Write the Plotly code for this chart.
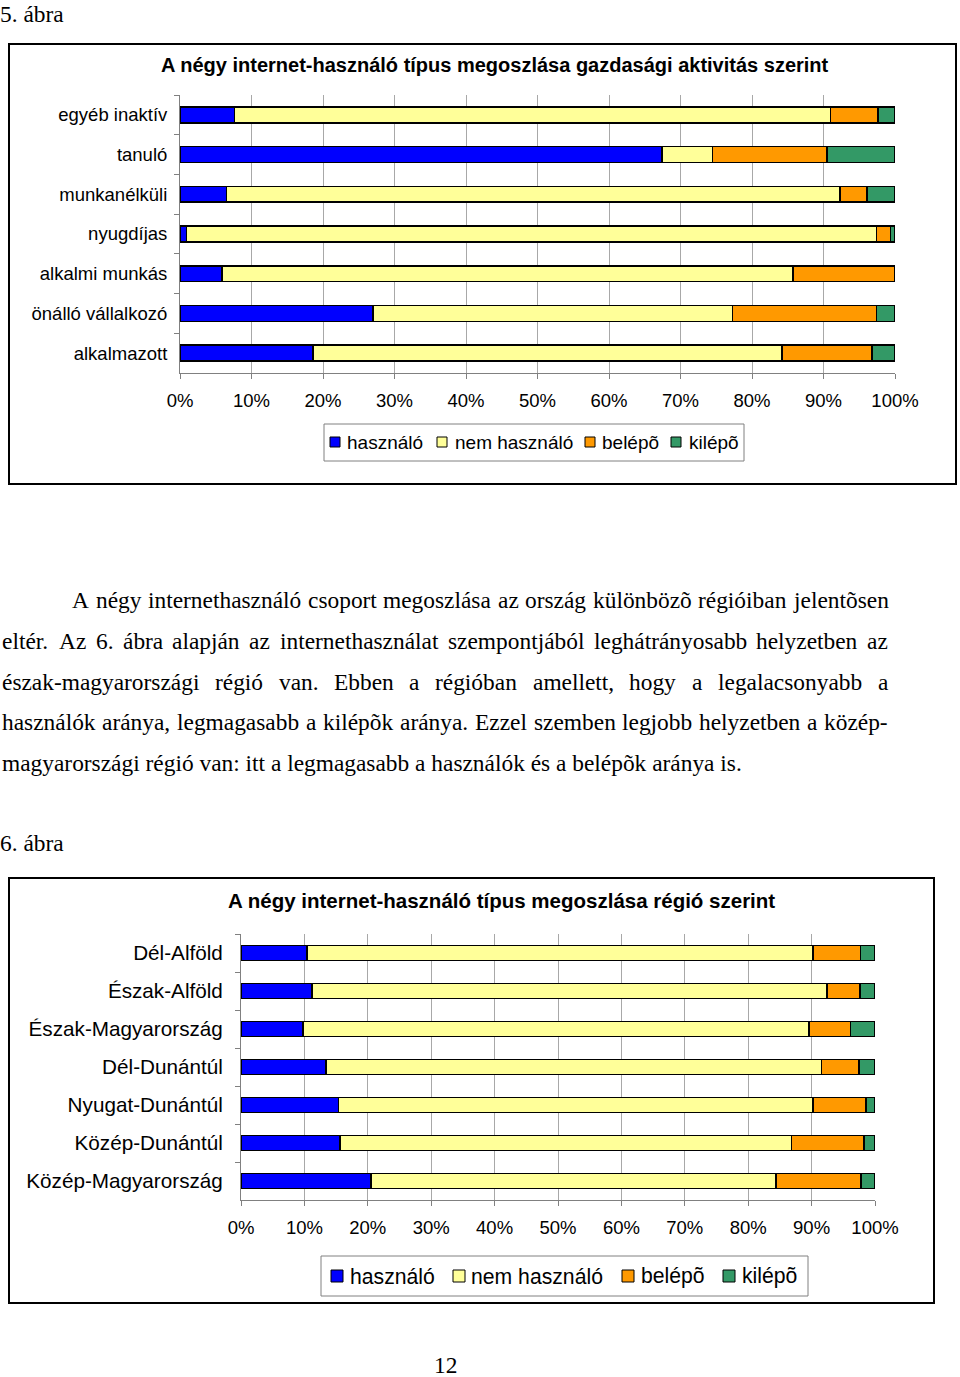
import plotly.graph_objects as go

W, H = 960, 1377


def X(px):
    return px / W


def Y(py):
    return 1 - py / H


# ---------------- data ----------------
act_cats = ["egyéb inaktív", "tanuló", "munkanélküli", "nyugdíjas",
            "alkalmi munkás", "önálló vállalkozó", "alkalmazott"]
act_hasznalo = [7.6, 67.4, 6.5, 0.9, 5.9, 27.0, 18.6]
act_nem = [83.4, 7.1, 85.8, 96.5, 79.8, 50.3, 65.6]
act_belepo = [6.6, 16.0, 3.8, 2.0, 14.3, 20.1, 12.6]
act_kilepo = [2.4, 9.5, 3.9, 0.6, 0.0, 2.6, 3.2]

reg_cats = ["Dél-Alföld", "Észak-Alföld", "Észak-Magyarország", "Dél-Dunántúl",
            "Nyugat-Dunántúl", "Közép-Dunántúl", "Közép-Magyarország"]
reg_hasznalo = [10.4, 11.2, 9.8, 13.4, 15.4, 15.6, 20.5]
reg_nem = [79.8, 81.2, 79.8, 78.2, 74.8, 71.2, 63.9]
reg_belepo = [7.5, 5.2, 6.5, 5.9, 8.4, 11.5, 13.4]
reg_kilepo = [2.3, 2.4, 3.9, 2.5, 1.4, 1.7, 2.2]

series_names = ["használó", "nem használó", "belépõ", "kilépõ"]
series_colors = ["#0000FF", "#FFFF99", "#FF9900", "#339966"]
x_tick_vals = [0, 10, 20, 30, 40, 50, 60, 70, 80, 90, 100]
x_tick_text = ["0%", "10%", "20%", "30%", "40%", "50%", "60%", "70%", "80%", "90%", "100%"]

title1 = "A négy internet-használó típus megoszlása gazdasági aktivitás szerint"
title2 = "A négy internet-használó típus megoszlása régió szerint"

para_lines = [
    "A négy internethasználó csoport megoszlása az ország különbözõ régióiban jelentõsen",
    "eltér. Az 6. ábra alapján az internethasználat szempontjából leghátrányosabb helyzetben az",
    "észak-magyarországi régió van. Ebben a régióban amellett, hogy a legalacsonyabb a",
    "használók aránya, legmagasabb a kilépõk aránya. Ezzel szemben legjobb helyzetben a közép-",
    "magyarországi régió van: itt a legmagasabb a használók és a belépõk aránya is.",
]

SANS = "Liberation Sans"
SERIF = "Liberation Serif"

# Times / Liberation Serif advance widths (1/1000 em) used to justify text lines
TIMES_W = {
    " ": 250, "a": 444, "b": 500, "c": 444, "d": 500, "e": 444, "f": 333, "g": 500,
    "h": 500, "i": 278, "j": 278, "k": 500, "l": 278, "m": 778, "n": 500, "o": 500,
    "p": 500, "q": 500, "r": 333, "s": 389, "t": 278, "u": 500, "v": 500, "w": 722,
    "x": 500, "y": 500, "z": 444, "A": 722, "E": 611, ".": 250, ",": 250, "-": 333,
    ":": 278, "6": 500, "á": 444, "é": 444, "í": 278, "ó": 500, "ö": 500, "õ": 500,
    "ü": 500, "ú": 500,
}


def word_width(word, size):
    return sum(TIMES_W.get(c, 500) for c in word) * size / 1000.0


fig = go.Figure()

act_series = [act_hasznalo, act_nem, act_belepo, act_kilepo]
reg_series = [reg_hasznalo, reg_nem, reg_belepo, reg_kilepo]

for name, col, vals in zip(series_names, series_colors, act_series):
    fig.add_trace(go.Bar(
        y=act_cats, x=vals, orientation="h", name=name,
        marker=dict(color=col, line=dict(color="#000000", width=1.5)),
        xaxis="x", yaxis="y", showlegend=False, hoverinfo="x+y+name",
    ))

for name, col, vals in zip(series_names, series_colors, reg_series):
    fig.add_trace(go.Bar(
        y=reg_cats, x=vals, orientation="h", name=name,
        marker=dict(color=col, line=dict(color="#000000", width=1.5)),
        xaxis="x2", yaxis="y2", showlegend=False, hoverinfo="x+y+name",
    ))

common_x = dict(
    range=[0, 100], tickmode="array", tickvals=x_tick_vals, ticktext=x_tick_text,
    showgrid=True, gridcolor="#A8A8A8", gridwidth=1,
    showline=True, linecolor="#808080", linewidth=1,
    ticks="outside", ticklen=5, tickcolor="#808080",
    zeroline=False, fixedrange=True, automargin=False,
)
common_y = dict(
    autorange="reversed", type="category",
    showline=True, linecolor="#808080", linewidth=1,
    ticks="outside", ticklen=5, tickcolor="#808080", tickson="boundaries",
    showgrid=False, zeroline=False, fixedrange=True, automargin=False,
)

fig.update_layout(
    width=W, height=H, autosize=False,
    margin=dict(l=0, r=0, t=0, b=0, pad=0, autoexpand=False),
    paper_bgcolor="white", plot_bgcolor="white",
    barmode="stack", bargap=0.6,
    showlegend=False,
    xaxis=dict(domain=[X(180), X(895)], anchor="y",
               tickfont=dict(family=SANS, size=18.5, color="#000"),
               ticklabelstandoff=6, **common_x),
    yaxis=dict(domain=[Y(373), Y(95)], anchor="x",
               tickfont=dict(family=SANS, size=18.5, color="#000"),
               ticklabelstandoff=8, **common_y),
    xaxis2=dict(domain=[X(241), X(875)], anchor="y2",
                tickfont=dict(family=SANS, size=18.5, color="#000"),
                ticklabelstandoff=6, **common_x),
    yaxis2=dict(domain=[Y(1200), Y(934)], anchor="x2",
                tickfont=dict(family=SANS, size=20.7, color="#000"),
                ticklabelstandoff=13, **common_y),
)

shapes = []
# chart frames
shapes.append(dict(type="rect", xref="paper", yref="paper",
                   x0=X(9), x1=X(956), y0=Y(484), y1=Y(44),
                   line=dict(color="#000", width=2), layer="below"))
shapes.append(dict(type="rect", xref="paper", yref="paper",
                   x0=X(9), x1=X(934), y0=Y(1303), y1=Y(878),
                   line=dict(color="#000", width=2), layer="below"))

annotations = []


def txt(text, x, y, size, family, xanchor="left", bold=False):
    if bold:
        text = "<b>" + text + "</b>"
    annotations.append(dict(text=text, x=X(x), y=Y(y), xref="paper", yref="paper",
                            xanchor=xanchor, yanchor="middle", showarrow=False,
                            borderpad=0, borderwidth=0,
                            font=dict(family=family, size=size, color="#000")))


# manual legends (box, swatches, labels)
def legend(box, cy, sw_x, txt_x, sw_size, font_size):
    shapes.append(dict(type="rect", xref="paper", yref="paper",
                       x0=X(box[0]), x1=X(box[1]), y0=Y(box[3]), y1=Y(box[2]),
                       line=dict(color="#808080", width=1), fillcolor="white"))
    for name, col, sx, tx in zip(series_names, series_colors, sw_x, txt_x):
        shapes.append(dict(type="rect", xref="paper", yref="paper",
                           x0=X(sx), x1=X(sx + sw_size),
                           y0=Y(cy + sw_size / 2), y1=Y(cy - sw_size / 2),
                           line=dict(color="#000", width=1), fillcolor=col))
        txt(name, tx, cy, font_size, SANS)


legend((324, 744, 424, 461), 442, [330, 437, 585, 671], [347, 455, 602, 689], 10, 19)
legend((321, 808, 1256, 1296), 1276, [331, 453, 622, 723], [350, 471, 641, 742], 12, 21.2)

txt(title1, 495, 65, 20, SANS, "center", bold=True)
txt(title2, 501, 900, 20.5, SANS, "center", bold=True)

FS = 23.4
txt("5. ábra", 0, 14, FS, SERIF)
txt("6. ábra", 0, 843, FS, SERIF)
txt("12", 445, 1365, FS, SERIF, "center")

line_y = [600, 641, 682, 722, 763]
line_x0 = [72, 2, 2, 2, 2]
line_x1 = 888
for i, (line, ly) in enumerate(zip(para_lines, line_y)):
    words = line.split(" ")
    if i < 4:  # justified lines
        widths = [word_width(w, FS) for w in words]
        gap = (line_x1 - line_x0[i] - sum(widths)) / (len(words) - 1)
        xpos = line_x0[i]
        for w, ww in zip(words, widths):
            txt(w, xpos, ly, FS, SERIF)
            xpos += ww + gap
    else:
        txt(line, line_x0[i], ly, FS, SERIF)

fig.update_layout(annotations=annotations, shapes=shapes)

fig.write_html(
    "out.html",
    config={"responsive": False, "displayModeBar": False},
    post_script="document.body.style.margin='0';document.body.style.overflow='hidden';",
)
